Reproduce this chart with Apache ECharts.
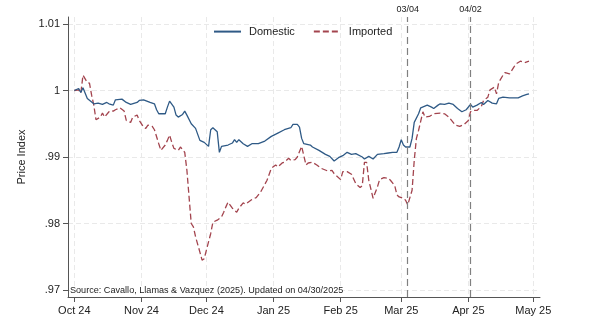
<!DOCTYPE html>
<html>
<head>
<meta charset="utf-8">
<script src="https://cdn.jsdelivr.net/npm/echarts@6/dist/echarts.min.js"></script>
<style>
  html, body { margin: 0; padding: 0; background: #ffffff; }
  #chart { width: 595px; height: 333px; }
</style>
</head>
<body>
<div id="chart"></div>
<script>
// Daily price index, domestic goods
const domesticDates = [
  '2024-10-01','2024-10-03','2024-10-04','2024-10-05','2024-10-07','2024-10-10','2024-10-12','2024-10-14',
  '2024-10-16','2024-10-17','2024-10-19','2024-10-20','2024-10-23','2024-10-25','2024-10-27','2024-10-30',
  '2024-10-31','2024-11-02','2024-11-05','2024-11-07','2024-11-08','2024-11-09','2024-11-12','2024-11-13',
  '2024-11-14','2024-11-16','2024-11-17','2024-11-18','2024-11-20','2024-11-21','2024-11-22','2024-11-24',
  '2024-11-26','2024-11-28','2024-11-30','2024-12-02','2024-12-03','2024-12-04','2024-12-06','2024-12-07',
  '2024-12-08','2024-12-11','2024-12-13','2024-12-14','2024-12-15','2024-12-16','2024-12-18','2024-12-20',
  '2024-12-22','2024-12-25','2024-12-28','2024-12-31','2025-01-03','2025-01-06','2025-01-09','2025-01-10',
  '2025-01-12','2025-01-13','2025-01-14','2025-01-15','2025-01-18','2025-01-19','2025-01-22','2025-01-25',
  '2025-01-27','2025-01-29','2025-01-31','2025-02-02','2025-02-04','2025-02-06','2025-02-08','2025-02-11',
  '2025-02-12','2025-02-14','2025-02-16','2025-02-18','2025-02-21','2025-02-23','2025-02-25','2025-02-27',
  '2025-02-28','2025-03-01','2025-03-02','2025-03-03','2025-03-05','2025-03-06','2025-03-07','2025-03-09',
  '2025-03-10','2025-03-13','2025-03-15','2025-03-16','2025-03-18','2025-03-19','2025-03-21','2025-03-23',
  '2025-03-25','2025-03-27','2025-03-29','2025-03-31','2025-04-02','2025-04-03','2025-04-05','2025-04-07',
  '2025-04-08','2025-04-10','2025-04-12','2025-04-14','2025-04-15','2025-04-17','2025-04-20','2025-04-24',
  '2025-04-26','2025-04-28','2025-04-29'
];
const domesticValues = [
  1.0000, 1.0003, 0.9997, 1.0004, 0.9988, 0.9980, 0.9981, 0.9979,
  0.9982, 0.9980, 0.9978, 0.9986, 0.9987, 0.9982, 0.9979, 0.9982,
  0.9985, 0.9986, 0.9982, 0.9980, 0.9971, 0.9965, 0.9965, 0.9975,
  0.9984, 0.9975, 0.9963, 0.9960, 0.9964, 0.9969, 0.9963, 0.9950,
  0.9943, 0.9925, 0.9922, 0.9916, 0.9941, 0.9944, 0.9938, 0.9907,
  0.9916, 0.9918, 0.9921, 0.9926, 0.9922, 0.9926, 0.9920, 0.9916,
  0.9920, 0.9920, 0.9924, 0.9931, 0.9936, 0.9941, 0.9944, 0.9949,
  0.9949, 0.9945, 0.9928, 0.9920, 0.9918, 0.9915, 0.9910, 0.9904,
  0.9901, 0.9894, 0.9899, 0.9902, 0.9907, 0.9904, 0.9905, 0.9900,
  0.9897, 0.9901, 0.9897, 0.9904, 0.9905, 0.9906, 0.9907, 0.9907,
  0.9915, 0.9926, 0.9918, 0.9915, 0.9915, 0.9928, 0.9952, 0.9965,
  0.9974, 0.9978, 0.9975, 0.9973, 0.9978, 0.9980, 0.9979, 0.9981,
  0.9979, 0.9973, 0.9968, 0.9971, 0.9979, 0.9975, 0.9978, 0.9982,
  0.9979, 0.9985, 0.9981, 0.9980, 0.9988, 0.9990, 0.9989, 0.9989,
  0.9992, 0.9994, 0.9995
];

// Daily price index, imported goods
const importedDates = [
  '2024-10-01','2024-10-03','2024-10-04','2024-10-05','2024-10-07','2024-10-08','2024-10-09','2024-10-10',
  '2024-10-11','2024-10-13','2024-10-14','2024-10-15','2024-10-17','2024-10-18','2024-10-19','2024-10-20',
  '2024-10-22','2024-10-24','2024-10-25','2024-10-27','2024-10-28','2024-10-30','2024-10-31','2024-11-02',
  '2024-11-03','2024-11-04','2024-11-06','2024-11-07','2024-11-09','2024-11-10','2024-11-12','2024-11-13',
  '2024-11-14','2024-11-15','2024-11-16','2024-11-18','2024-11-19','2024-11-21','2024-11-22','2024-11-23',
  '2024-11-24','2024-11-25','2024-11-26','2024-11-28','2024-11-29','2024-11-30','2024-12-01','2024-12-03',
  '2024-12-04','2024-12-06','2024-12-08','2024-12-09','2024-12-10','2024-12-11','2024-12-13','2024-12-15',
  '2024-12-16','2024-12-18','2024-12-19','2024-12-22','2024-12-24','2024-12-26','2024-12-29','2024-12-31',
  '2025-01-02','2025-01-03','2025-01-05','2025-01-06','2025-01-08','2025-01-09','2025-01-11','2025-01-12',
  '2025-01-14','2025-01-15','2025-01-16','2025-01-17','2025-01-19','2025-01-21','2025-01-23','2025-01-26',
  '2025-01-28','2025-01-29','2025-02-01','2025-02-02','2025-02-04','2025-02-06','2025-02-08','2025-02-10',
  '2025-02-11','2025-02-12','2025-02-13','2025-02-14','2025-02-16','2025-02-18','2025-02-19','2025-02-21',
  '2025-02-23','2025-02-24','2025-02-26','2025-02-27','2025-02-28','2025-03-02','2025-03-03','2025-03-04',
  '2025-03-06','2025-03-07','2025-03-08','2025-03-09','2025-03-11','2025-03-12','2025-03-14','2025-03-16',
  '2025-03-19','2025-03-21','2025-03-23','2025-03-26','2025-03-28','2025-03-30','2025-04-01','2025-04-02',
  '2025-04-03','2025-04-05','2025-04-07','2025-04-08','2025-04-10','2025-04-11','2025-04-13','2025-04-14',
  '2025-04-15','2025-04-17','2025-04-18','2025-04-20','2025-04-22','2025-04-23','2025-04-25','2025-04-27',
  '2025-04-29'
];
const importedValues = [
  1.0000, 1.0001, 0.9996, 1.0023, 1.0012, 1.0011, 0.9993, 0.9978,
  0.9956, 0.9960, 0.9966, 0.9960, 0.9968, 0.9970, 0.9969, 0.9971,
  0.9974, 0.9969, 0.9955, 0.9952, 0.9960, 0.9963, 0.9955, 0.9945,
  0.9943, 0.9948, 0.9946, 0.9941, 0.9920, 0.9910, 0.9918, 0.9925,
  0.9933, 0.9922, 0.9913, 0.9910, 0.9915, 0.9907, 0.9880, 0.9840,
  0.9800, 0.9795, 0.9780, 0.9757, 0.9745, 0.9747, 0.9760, 0.9785,
  0.9802, 0.9805, 0.9810, 0.9817, 0.9825, 0.9832, 0.9823, 0.9817,
  0.9823, 0.9831, 0.9829, 0.9836, 0.9839, 0.9847, 0.9865, 0.9883,
  0.9888, 0.9885, 0.9891, 0.9892, 0.9898, 0.9895, 0.9896, 0.9900,
  0.9916, 0.9902, 0.9888, 0.9891, 0.9892, 0.9888, 0.9883, 0.9879,
  0.9880, 0.9875, 0.9866, 0.9878, 0.9878, 0.9874, 0.9860, 0.9854,
  0.9857, 0.9892, 0.9892, 0.9865, 0.9838, 0.9855, 0.9866, 0.9869,
  0.9868, 0.9865, 0.9857, 0.9843, 0.9840, 0.9838, 0.9835, 0.9828,
  0.9850, 0.9895, 0.9928, 0.9940, 0.9968, 0.9960, 0.9961, 0.9965,
  0.9966, 0.9965, 0.9960, 0.9948, 0.9946, 0.9949, 0.9955, 0.9968,
  0.9970, 0.9970, 0.9976, 0.9985, 0.9990, 1.0001, 1.0005, 0.9995,
  1.0012, 1.0023, 1.0027, 1.0025, 1.0035, 1.0040, 1.0044, 1.0042,
  1.0044
];

// Axis ticks
const monthTicks = ['2024-10-01','2024-11-01','2024-12-01','2025-01-01','2025-02-01','2025-03-01','2025-04-01','2025-05-01'];
const monthNames = ['Jan','Feb','Mar','Apr','May','Jun','Jul','Aug','Sep','Oct','Nov','Dec'];
const priceTicks = [0.97, 0.98, 0.99, 1.00, 1.01];

// Policy event markers
const eventDates = ['2025-03-04', '2025-04-02'];
const eventLabels = ['03/04', '04/02'];

const seriesNames = ['Domestic', 'Imported'];
const sourceNote = 'Source: Cavallo, Llamas & Vazquez (2025). Updated on 04/30/2025';

const ts = s => Date.parse(s + 'T00:00:00Z');
const pairs = (dates, vals) => dates.map((d, i) => [ts(d), vals[i]]);

const FONT = '"Liberation Sans", Arial, sans-serif';
const gridLine = { show: true, lineStyle: { color: '#e9e9e9', width: 1, type: [5, 3] } };

const chart = echarts.init(document.getElementById('chart'), null, { renderer: 'canvas' });

chart.setOption({
  animation: false,
  backgroundColor: '#ffffff',
  textStyle: { fontFamily: FONT },
  grid: { left: 68, right: 55, top: 17, bottom: 36, containLabel: false },
  legend: {
    left: 213, top: 26, padding: 0,
    itemWidth: 27, itemHeight: 14, itemGap: 18,
    itemStyle: { opacity: 0, borderWidth: 0 },
    textStyle: { fontSize: 11, color: '#222', fontFamily: FONT, padding: [0, 0, 0, 3] },
    data: seriesNames
  },
  xAxis: {
    type: 'value',
    min: Date.UTC(2024, 8, 28, 2),
    max: Date.UTC(2025, 4, 4, 2),
    axisLine: { show: true, lineStyle: { color: '#555', width: 1 } },
    axisTick: { show: true, length: 5, lineStyle: { color: '#555' }, customValues: monthTicks.map(ts) },
    axisLabel: {
      customValues: monthTicks.map(ts),
      fontSize: 11, color: '#222', margin: 8, fontFamily: FONT,
      formatter: v => {
        const d = new Date(v);
        return monthNames[d.getUTCMonth()] + ' ' + String(d.getUTCFullYear()).slice(2);
      }
    },
    splitLine: gridLine
  },
  yAxis: {
    type: 'value',
    min: 0.96895,
    max: 1.01105,
    name: 'Price Index',
    nameLocation: 'middle',
    nameGap: 34,
    nameTextStyle: { fontSize: 11, color: '#222', fontFamily: FONT },
    axisLine: { show: true, lineStyle: { color: '#555', width: 1 } },
    axisTick: { show: true, length: 5, lineStyle: { color: '#555' }, customValues: priceTicks },
    axisLabel: {
      customValues: priceTicks,
      fontSize: 11, color: '#222', margin: 8, fontFamily: FONT,
      formatter: v => {
        let s = (+v).toFixed(2).replace(/\.?0+$/, '');
        return s.replace(/^0\./, '.');
      }
    },
    splitLine: gridLine
  },
  series: [
    {
      name: seriesNames[0],
      type: 'line',
      data: pairs(domesticDates, domesticValues),
      symbol: 'none',
      smooth: false,
      lineStyle: { color: '#2f5a86', width: 1.3 },
      itemStyle: { color: '#2f5a86' },
      z: 3
    },
    {
      name: seriesNames[1],
      type: 'line',
      data: pairs(importedDates, importedValues),
      symbol: 'none',
      smooth: false,
      lineStyle: { color: '#a3444e', width: 1.3, type: [6, 3] },
      itemStyle: { color: '#a3444e' },
      z: 2,
      markLine: {
        silent: true,
        symbol: 'none',
        lineStyle: { color: '#808080', width: 1.2, type: [7, 4] },
        label: {
          show: true, position: 'end', distance: 3,
          fontSize: 9, color: '#222', fontFamily: FONT,
          formatter: p => p.name
        },
        data: eventDates.map((d, i) => ({ xAxis: ts(d), name: eventLabels[i] }))
      }
    }
  ],
  graphic: [
    {
      type: 'text',
      left: 70, top: 286,
      z: 10,
      style: {
        text: sourceNote, fontSize: 9.1, fill: '#222', fontFamily: FONT,
        backgroundColor: '#ffffff'
      }
    }
  ]
});
</script>
</body>
</html>
